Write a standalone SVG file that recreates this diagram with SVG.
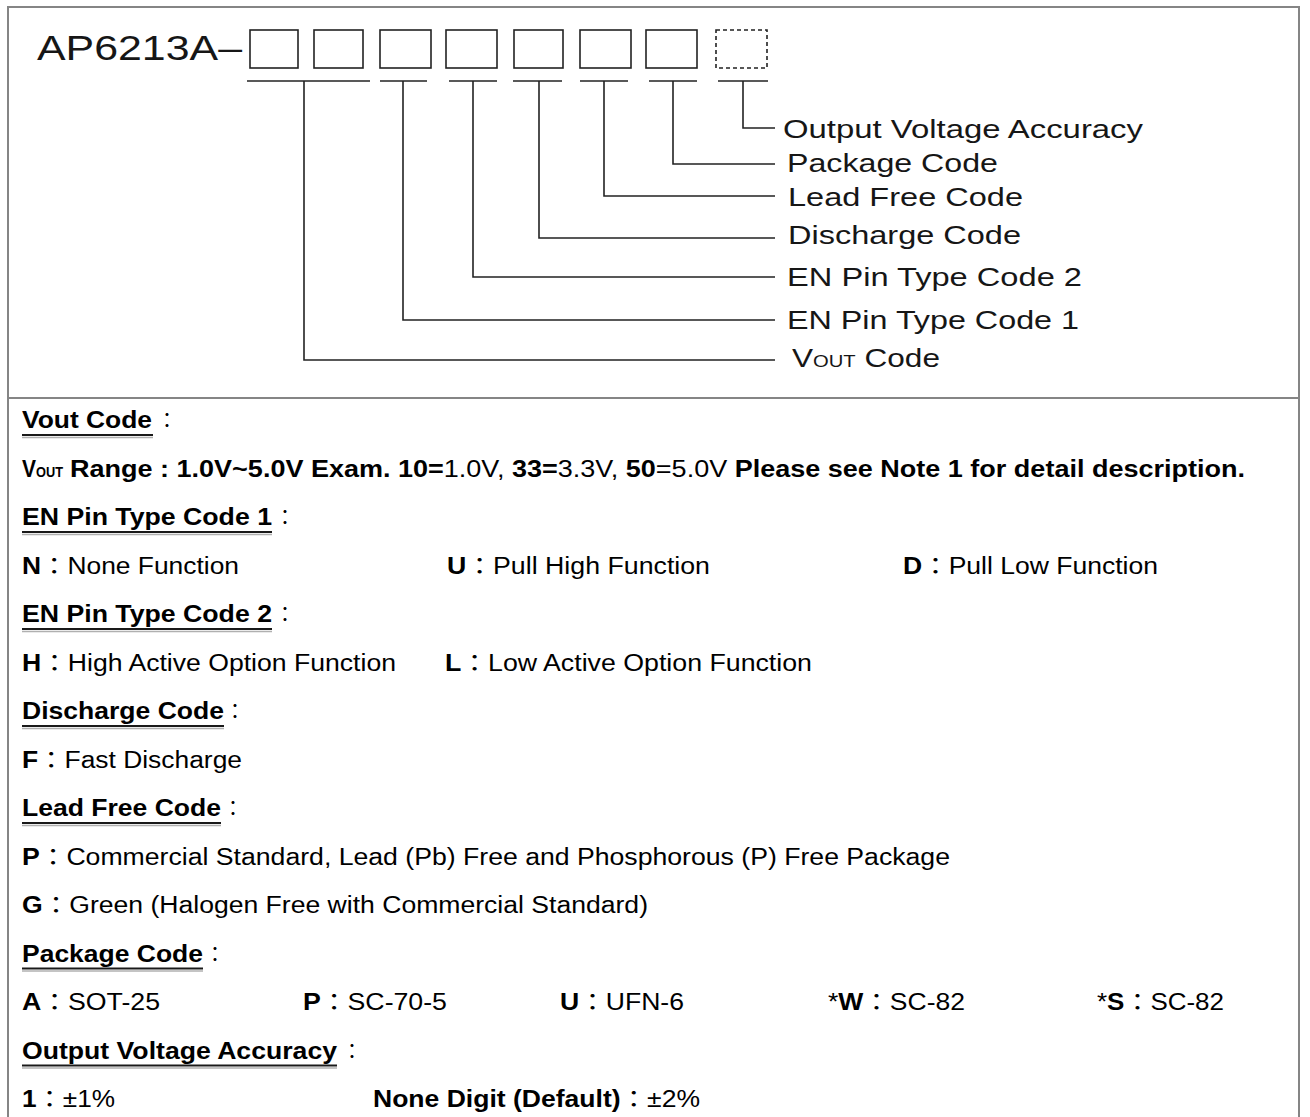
<svg xmlns="http://www.w3.org/2000/svg" width="1310" height="1117" viewBox="0 0 1310 1117">
<style>
.frame{stroke:#858585;stroke-width:2;fill:none}
.box{fill:none;stroke:#222;stroke-width:1.6}
.dbox{fill:none;stroke:#222;stroke-width:1.6;stroke-dasharray:4 3}
.conn{fill:none;stroke:#222;stroke-width:1.6}
.lbl{font-family:"Liberation Sans",Arial,sans-serif;font-size:25px;fill:#161616}
.title{font-family:"Liberation Sans",Arial,sans-serif;font-size:35px;fill:#161616}
.t{font-family:"Liberation Sans",Arial,"Noto Sans CJK TC",sans-serif;font-size:23px;fill:#000}
.b{font-weight:bold}
.col{font-family:"Noto Sans CJK TC","Liberation Sans",sans-serif;font-size:20px;fill:#000}
.ul{stroke:#1a1a1a;stroke-width:2}
.uls{stroke:#b0b0b0;stroke-width:1.5}
</style>
<g id="frame">
<line class="frame" x1="7" y1="7" x2="1300" y2="7"/>
<line class="frame" x1="8" y1="7" x2="8" y2="1117"/>
<line class="frame" x1="1299" y1="7" x2="1299" y2="1117"/>
<line class="frame" x1="8" y1="398" x2="1299" y2="398"/>
</g>
<g id="title"><text class="title" x="37" y="60" textLength="205" lengthAdjust="spacingAndGlyphs">AP6213A–</text></g>
<g id="boxes">
<rect id="box1" class="box" x="250" y="30" width="48" height="38"/>
<rect id="box2" class="box" x="314" y="30" width="49" height="38"/>
<rect id="box3" class="box" x="380" y="30" width="51" height="38"/>
<rect id="box4" class="box" x="446" y="30" width="51" height="38"/>
<rect id="box5" class="box" x="514" y="30" width="49" height="38"/>
<rect id="box6" class="box" x="580" y="30" width="51" height="38"/>
<rect id="box7" class="box" x="646" y="30" width="51" height="38"/>
<rect id="box8" class="dbox" x="716" y="30" width="51" height="38"/>
</g>
<g id="connectors">
<line class="conn" x1="247" y1="81" x2="370" y2="81"/>
<line class="conn" x1="380" y1="81" x2="427" y2="81"/>
<line class="conn" x1="449" y1="81" x2="497" y2="81"/>
<line class="conn" x1="513" y1="81" x2="562" y2="81"/>
<line class="conn" x1="580" y1="81" x2="628" y2="81"/>
<line class="conn" x1="649" y1="81" x2="697" y2="81"/>
<line class="conn" x1="718" y1="81" x2="768" y2="81"/>
<polyline class="conn" points="304,81 304,360 775,360"/>
<polyline class="conn" points="403,81 403,320 775,320"/>
<polyline class="conn" points="473,81 473,277 775,277"/>
<polyline class="conn" points="539,81 539,238 775,238"/>
<polyline class="conn" points="604,81 604,196 775,196"/>
<polyline class="conn" points="673,81 673,164 775,164"/>
<polyline class="conn" points="743,81 743,128 775,128"/>
</g>
<g id="labels">
<text id="lbl-acc" class="lbl" x="783" y="138" textLength="360" lengthAdjust="spacingAndGlyphs">Output Voltage Accuracy</text>
<text id="lbl-pkg" class="lbl" x="787" y="172" textLength="211" lengthAdjust="spacingAndGlyphs">Package Code</text>
<text id="lbl-lead" class="lbl" x="788" y="206" textLength="235" lengthAdjust="spacingAndGlyphs">Lead Free Code</text>
<text id="lbl-dis" class="lbl" x="788" y="244" textLength="233" lengthAdjust="spacingAndGlyphs">Discharge Code</text>
<text id="lbl-en2" class="lbl" x="787" y="286" textLength="295" lengthAdjust="spacingAndGlyphs">EN Pin Type Code 2</text>
<text id="lbl-en1" class="lbl" x="787" y="329" textLength="292" lengthAdjust="spacingAndGlyphs">EN Pin Type Code 1</text>
<text id="lbl-vout" class="lbl" x="792" y="367" textLength="148" lengthAdjust="spacingAndGlyphs">V<tspan style="font-size:16px">OUT</tspan> Code</text>
</g>
<g id="body">
<g id="h-vout">
<text class="t b" x="22" y="428" textLength="130" lengthAdjust="spacingAndGlyphs">Vout Code</text>
<line class="uls" x1="22" y1="437.5" x2="153" y2="437.5"/><line class="ul" x1="22" y1="435" x2="153" y2="435"/>
<text class="col" x="157" y="428">：</text>
</g>
<g id="l-vout">
<text class="t b" x="22" y="476.5" textLength="41" lengthAdjust="spacingAndGlyphs">V<tspan style="font-size:14px">OUT</tspan></text>
<text class="t" x="70" y="476.5" textLength="1175" lengthAdjust="spacingAndGlyphs"><tspan class="b">Range : 1.0V~5.0V Exam. 10=</tspan>1.0V, <tspan class="b">33=</tspan>3.3V, <tspan class="b">50</tspan>=5.0V <tspan class="b">Please see Note 1 for detail description.</tspan></text>
</g>
<g id="h-en1">
<text class="t b" x="22" y="525" textLength="250" lengthAdjust="spacingAndGlyphs">EN Pin Type Code 1</text>
<line class="uls" x1="22" y1="534.5" x2="272" y2="534.5"/><line class="ul" x1="22" y1="532" x2="272" y2="532"/>
<text class="col" x="275" y="525">：</text>
</g>
<g id="l-en1">
<text class="t" x="22" y="573.5" textLength="217" lengthAdjust="spacingAndGlyphs"><tspan class="b">N</tspan>：None Function</text>
<text class="t" x="447" y="573.5" textLength="263" lengthAdjust="spacingAndGlyphs"><tspan class="b">U</tspan>：Pull High Function</text>
<text class="t" x="903" y="573.5" textLength="255" lengthAdjust="spacingAndGlyphs"><tspan class="b">D</tspan>：Pull Low Function</text>
</g>
<g id="h-en2">
<text class="t b" x="22" y="622" textLength="250" lengthAdjust="spacingAndGlyphs">EN Pin Type Code 2</text>
<line class="uls" x1="22" y1="631.5" x2="272" y2="631.5"/><line class="ul" x1="22" y1="629" x2="272" y2="629"/>
<text class="col" x="275" y="622">：</text>
</g>
<g id="l-en2">
<text class="t" x="22" y="670.5" textLength="374" lengthAdjust="spacingAndGlyphs"><tspan class="b">H</tspan>：High Active Option Function</text>
<text class="t" x="445" y="670.5" textLength="367" lengthAdjust="spacingAndGlyphs"><tspan class="b">L</tspan>：Low Active Option Function</text>
</g>
<g id="h-dis">
<text class="t b" x="22" y="719" textLength="202" lengthAdjust="spacingAndGlyphs">Discharge Code</text>
<line class="uls" x1="22" y1="728.5" x2="224" y2="728.5"/><line class="ul" x1="22" y1="726" x2="224" y2="726"/>
<text class="col" x="225" y="719">：</text>
</g>
<g id="l-dis">
<text class="t" x="22" y="767.5" textLength="220" lengthAdjust="spacingAndGlyphs"><tspan class="b">F</tspan>：Fast Discharge</text>
</g>
<g id="h-lead">
<text class="t b" x="22" y="816" textLength="199" lengthAdjust="spacingAndGlyphs">Lead Free Code</text>
<line class="uls" x1="22" y1="825.5" x2="221" y2="825.5"/><line class="ul" x1="22" y1="823" x2="221" y2="823"/>
<text class="col" x="223" y="816">：</text>
</g>
<g id="l-lead">
<text class="t" x="22" y="864.5" textLength="928" lengthAdjust="spacingAndGlyphs"><tspan class="b">P</tspan>：Commercial Standard, Lead (Pb) Free and Phosphorous (P) Free Package</text>
<text class="t" x="22" y="913" textLength="626" lengthAdjust="spacingAndGlyphs"><tspan class="b">G</tspan>：Green (Halogen Free with Commercial Standard)</text>
</g>
<g id="h-pkg">
<text class="t b" x="22" y="961.5" textLength="181" lengthAdjust="spacingAndGlyphs">Package Code</text>
<line class="uls" x1="22" y1="971" x2="203" y2="971"/><line class="ul" x1="22" y1="968.5" x2="203" y2="968.5"/>
<text class="col" x="205" y="961.5">：</text>
</g>
<g id="l-pkg">
<text class="t" x="22" y="1010" textLength="138" lengthAdjust="spacingAndGlyphs"><tspan class="b">A</tspan>：SOT-25</text>
<text class="t" x="303" y="1010" textLength="144" lengthAdjust="spacingAndGlyphs"><tspan class="b">P</tspan>：SC-70-5</text>
<text class="t" x="560" y="1010" textLength="124" lengthAdjust="spacingAndGlyphs"><tspan class="b">U</tspan>：UFN-6</text>
<text class="t" x="828" y="1010" textLength="137" lengthAdjust="spacingAndGlyphs">*<tspan class="b">W</tspan>：SC-82</text>
<text class="t" x="1097" y="1010" textLength="127" lengthAdjust="spacingAndGlyphs">*<tspan class="b">S</tspan>：SC-82</text>
</g>
<g id="h-acc">
<text class="t b" x="22" y="1058.5" textLength="315" lengthAdjust="spacingAndGlyphs">Output Voltage Accuracy</text>
<line class="uls" x1="22" y1="1068" x2="337" y2="1068"/><line class="ul" x1="22" y1="1065.5" x2="337" y2="1065.5"/>
<text class="col" x="342" y="1058.5">：</text>
</g>
<g id="l-acc">
<text class="t" x="22" y="1107" textLength="93" lengthAdjust="spacingAndGlyphs"><tspan class="b">1</tspan>：±1%</text>
<text class="t" x="373" y="1107" textLength="327" lengthAdjust="spacingAndGlyphs"><tspan class="b">None Digit (Default)</tspan>：±2%</text>
</g>
</g>
</svg>
